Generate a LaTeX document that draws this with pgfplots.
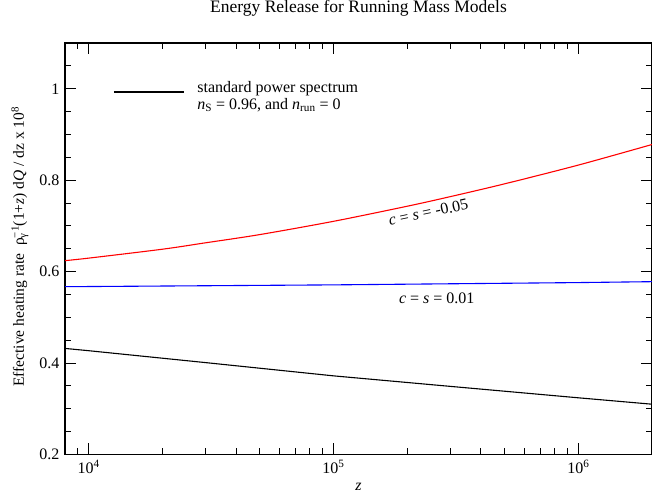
\documentclass[border=0pt]{standalone}
\usepackage{fontspec}
\setmainfont{Liberation Serif}
\usepackage{pgfplots}
\pgfplotsset{compat=1.18}
\begin{document}
\fontsize{16}{18}\selectfont
\begin{tikzpicture}
\begin{axis}[name=ax, scale only axis, width=587pt, height=411.5pt,
  xmode=log, xmin=8000, xmax=2e6, ymin=0.2, ymax=1.1,
  xtick={1e4,1e5,1e6},
  xticklabels={10\textsuperscript{4},10\textsuperscript{5},10\textsuperscript{6}},
  minor xtick={8000,9000,2e4,3e4,4e4,5e4,6e4,7e4,8e4,9e4,2e5,3e5,4e5,5e5,6e5,7e5,8e5,9e5,2e6},
  ytick={0.2,0.4,0.6,0.8,1}, yticklabels={0.2,0.4,0.6,0.8,1},
  minor ytick={0.25,0.3,0.35,0.45,0.5,0.55,0.65,0.7,0.75,0.85,0.9,0.95,1.05},
  tick align=inside, major tick length=11pt, minor tick length=6pt,
  axis line style={line width=1.4pt},
  every tick/.style={black, line width=1pt},
  title={Energy Release for Running Mass Models},
  title style={at={(rel axis cs:0.5,1)}, anchor=center, yshift=29pt, font=\fontsize{17.5}{20}\selectfont},
  xlabel={\textit{z}},
  xlabel style={at={(rel axis cs:0.5,-0.079)}, anchor=center},
  ylabel={\fontsize{15.5}{18}\selectfont Effective heating rate\ \ ρ\rlap{\textsubscript{γ}}\textsuperscript{−1}(1+\textit{z}) d\textit{Q} / dz x 10\textsuperscript{8}},
  ylabel style={at={(rel axis cs:-0.0767,0.505)}, anchor=center},
  legend style={draw=none, fill=none, at={(rel axis cs:0.0818,0.915)}, anchor=north west, inner sep=0pt, font=\fontsize{16}{17}\selectfont},
  legend cell align=left,
  legend image code/.code={\draw[#1] (0pt,0pt) -- (70pt,0pt); \path (81pt,0pt);},
]
\addplot[black, line width=1.1pt] coordinates {(8000,0.432) (1e4,0.427) (3e4,0.401) (1e5,0.372) (3e5,0.349) (1e6,0.324) (2e6,0.310)};
\addlegendentry{\begin{tabular}{@{}l@{}}standard power spectrum\\\textit{n}\textsubscript{S} = 0.96, and \textit{n}\textsubscript{run} = 0\end{tabular}}
\addplot[red, line width=1.1pt, smooth, forget plot] coordinates {(8000,0.624) (1e4,0.6295) (2e4,0.649) (3e4,0.663) (5e4,0.681) (1e5,0.710) (2e5,0.743) (3e5,0.764) (5e5,0.792) (1e6,0.833) (2e6,0.878)};
\addplot[blue, line width=1.1pt, forget plot] coordinates {(8000,0.567) (1e5,0.571) (1e6,0.576) (2e6,0.578)};
\node[rotate=12] at (axis cs:2.44e5,0.730) {\textit{c} = \textit{s} = -0.05};
\node at (axis cs:2.64e5,0.541) {\textit{c} = \textit{s} = 0.01};
\end{axis}
\pgfresetboundingbox
\path ([xshift=-65pt,yshift=-39.5pt]ax.south west) rectangle ([yshift=43pt]ax.north east);
\end{tikzpicture}
\end{document}
